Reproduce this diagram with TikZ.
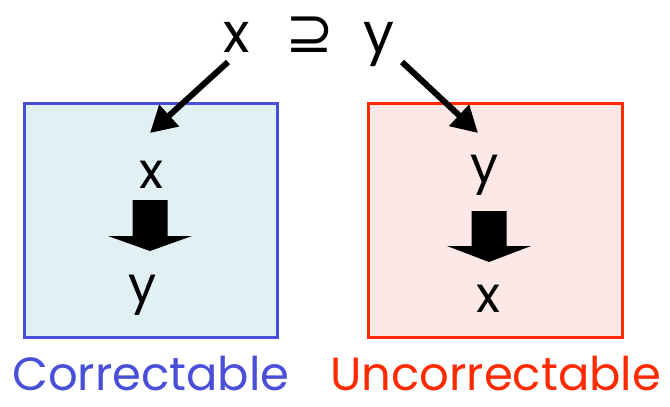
\documentclass[tikz,border=0pt]{standalone}
\usepackage{fontspec}
\setmainfont{Poppins}
\newfontfamily\symfont{DejaVu Sans}
\usetikzlibrary{arrows.meta}
\definecolor{cblue}{HTML}{4A4FD8}
\definecolor{cblueFill}{HTML}{E1F0F2}
\definecolor{cred}{HTML}{FF2A00}
\definecolor{credFill}{HTML}{FDE8E8}
\tikzset{
  box/.style={draw=#1, line width=3pt},
  letter/.style={font=\fontsize{50}{50}\selectfont, inner sep=0pt, text=black},
  top/.style={font=\fontsize{55}{55}\selectfont, inner sep=0pt},
  topsym/.style={font=\fontsize{58}{58}\selectfont\symfont, inner sep=0pt},
  label/.style={font=\fontsize{46.5}{46.5}\selectfont, inner sep=0pt, text depth=0pt},
  conn/.style={line width=6pt, -{Triangle[length=26pt,width=28pt]}},
  blk/.style={fill=black}
}
\begin{document}
\begin{tikzpicture}[x=1pt,y=-1pt]
\useasboundingbox (0,0) rectangle (670,407);
% boxes
\fill[cblueFill] (24,103) rectangle (277,337);
\draw[box=cblue] (24,103) rectangle (277,337);
\fill[credFill] (368,103) rectangle (622,337);
\draw[box=cred] (368,103) rectangle (622,337);
% top
\node[top, anchor=base] (tx) at (237,52) {x};
\node[topsym, anchor=base] (tsup) at (310,52) {⊇};
\node[top, anchor=base] (ty) at (379,52) {y};
\coordinate (ls) at (228,62);
\coordinate (le) at (150,133);
\coordinate (rs) at (402,62);
\coordinate (re) at (478,133);
\draw[conn] (ls) -- (le);
\draw[conn] (rs) -- (re);
% left contents
\node[letter, anchor=base] (lx) at (151,188) {x};
\coordinate (la) at (150,200);
\fill[blk] ([xshift=-17.5pt]la) -- ([xshift=17.5pt]la) -- ([xshift=17.5pt,yshift=-36pt]la) -- ([xshift=42pt,yshift=-36pt]la) -- ([yshift=-51pt]la) -- ([xshift=-42pt,yshift=-36pt]la) -- ([xshift=-17.5pt,yshift=-36pt]la) -- cycle;
\node[letter, anchor=base] (ly) at (143,302) {y};
% right contents
\node[letter, anchor=base] (ry) at (485,182) {y};
\coordinate (ra) at (489,211);
\fill[blk] ([xshift=-17.5pt]ra) -- ([xshift=17.5pt]ra) -- ([xshift=17.5pt,yshift=-35pt]ra) -- ([xshift=42pt,yshift=-35pt]ra) -- ([yshift=-51pt]ra) -- ([xshift=-42pt,yshift=-35pt]ra) -- ([xshift=-17.5pt,yshift=-35pt]ra) -- cycle;
\node[letter, anchor=base] (rx) at (488,312) {x};
% labels
\node[label, anchor=base west, text=cblue] (lc) at (12,390) {Correctable};
\node[label, anchor=base west, text=cred] (lu) at (330,390) {Uncorrectable};
\end{tikzpicture}
\end{document}
